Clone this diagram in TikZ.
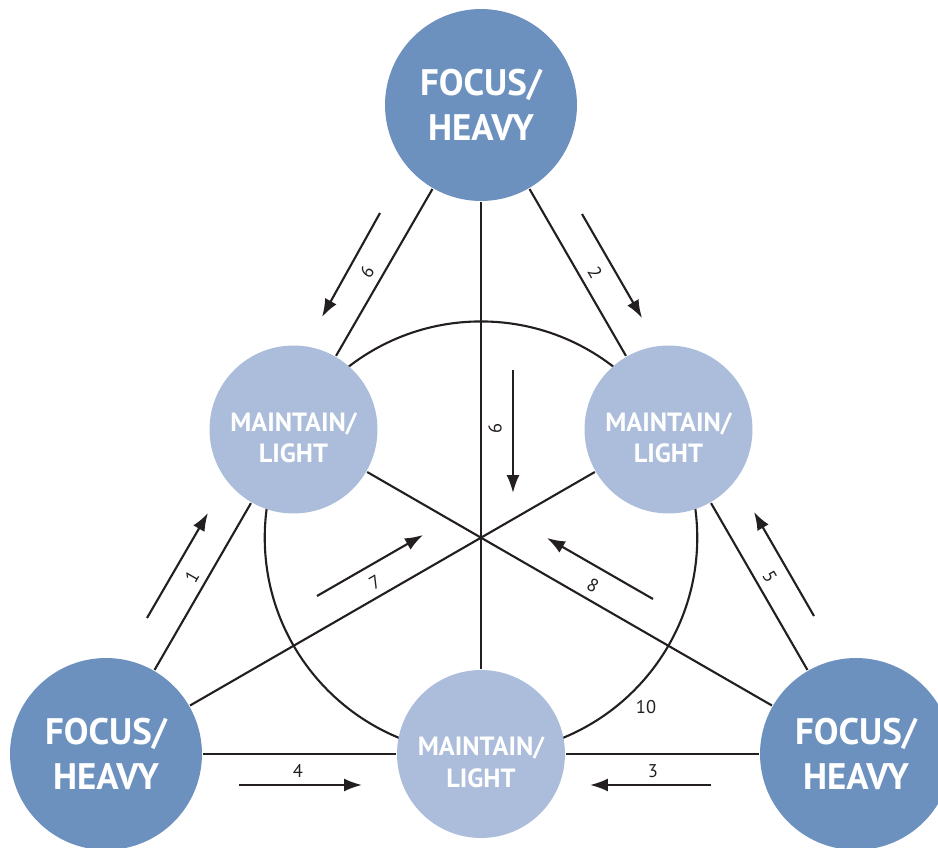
\documentclass[tikz,border=0pt]{standalone}
\usepackage{fontspec}
\setmainfont{PT Sans}
\usetikzlibrary{arrows.meta}
\definecolor{heavyblue}{RGB}{108,145,190}
\definecolor{lightblue}{RGB}{171,189,218}
\definecolor{ink}{RGB}{35,31,32}
\newcommand{\lighttext}{\rule{0pt}{20pt}MAINTAIN/\\LIGHT}

\begin{document}
\begin{tikzpicture}[x=0.02cm,y=-0.02cm,line width=1.2pt,ink]
\tikzset{
  heavy/.style={circle,fill=heavyblue,minimum size=3.84cm,inner sep=0pt,text=white,
    align=center,font=\bfseries\fontsize{21}{25.5}\selectfont},
  light/.style={circle,fill=lightblue,minimum size=3.36cm,inner sep=0pt,text=white,
    align=center,font=\bfseries\fontsize{15}{18}\selectfont},
  num/.style={text=ink,font=\fontsize{10.5}{12}\selectfont},
  move/.style={-{Latex[length=0.36cm,width=0.26cm]}}
}
\clip (0,0) rectangle (938,848);
\coordinate (c) at (481,537.7);
\draw (c) circle (4.326cm);
\node[heavy] (top) at (481,105) {FOCUS/\\HEAVY};
\node[heavy] (left) at (106,754) {FOCUS/\\HEAVY};
\node[heavy] (right) at (856,754) {FOCUS/\\HEAVY};
\node[light] (ml) at (293.5,429.5) {\lighttext};
\node[light] (mr) at (668.5,429.5) {\lighttext};
\node[light] (mb) at (481,754) {\lighttext};
\draw (top) -- (ml);
\draw (ml) -- (left);
\draw (top) -- (mr);
\draw (mr) -- (right);
\draw (left) -- (mb);
\draw (mb) -- (right);
\draw (top) -- (mb);
\draw (left) -- (mr);
\draw (right) -- (ml);
\draw[move] (147,618) -- (208,513);
\node[num,rotate=60] at (192,577) {1};
\draw[move] (582,214) -- (642,318);
\node[num,rotate=-60] at (595,273) {2};
\draw[move] (711,785) -- (590,785);
\node[num] at (653,771) {3};
\draw[move] (239,785) -- (362,785);
\node[num] at (298,771) {4};
\draw[move] (814,616) -- (754,512);
\node[num,rotate=-60] at (770,577) {5};
\draw[move] (380,213) -- (322,317);
\node[num,rotate=60] at (367,272) {6};
\draw[move] (317,596) -- (423,535);
\node[num,rotate=30] at (375,582) {7};
\draw[move] (653,599) -- (547,538);
\node[num,rotate=-30] at (593,585) {8};
\draw[move] (513,370) -- (513,493);
\node[num,rotate=-90] at (495,429) {9};
\node[num] at (646,707) {10};
\end{tikzpicture}
\end{document}
